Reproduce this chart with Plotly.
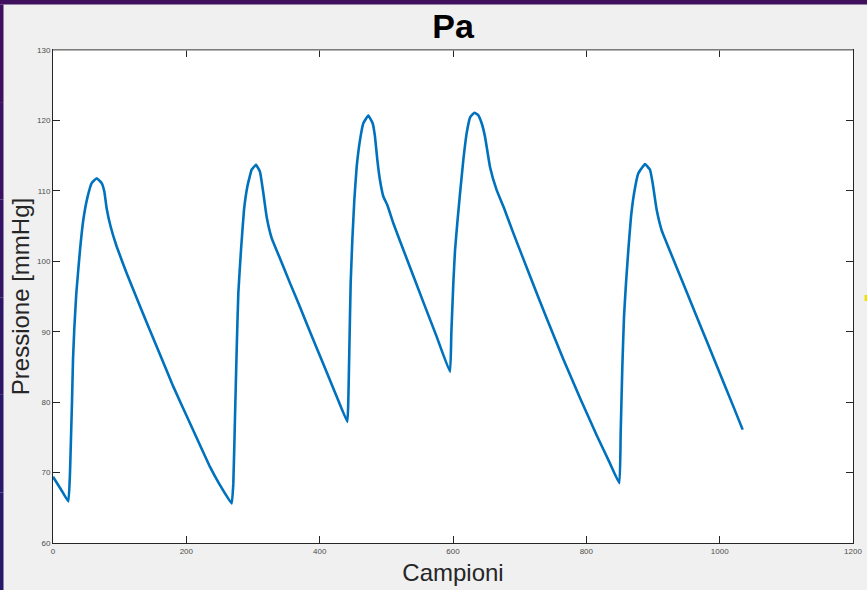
import plotly.graph_objects as go

# Arterial pressure trace (samples vs mmHg)
campioni = [0, 12, 23, 25.5, 27, 28.5, 30, 32, 35, 40.5, 45.5, 51.5, 58, 65.5, 73, 77, 80.5,
            86.5, 95.5, 110.5, 130.5, 155.5, 180.5, 205.5, 235.5, 250, 268,
            270.5, 273, 275.5, 278, 282, 286.5, 291.5, 298, 304.5, 310.5, 315.5, 320.5,
            328, 340.5, 355.5, 370.5, 385.5, 405.5, 425.5, 441.5,
            443, 444.5, 446.5, 449, 452, 455.5, 460.5, 465.5, 473, 479.5, 483, 486.5,
            490.5, 495.5, 501.5, 510.5, 530.5, 555.5, 575.5, 595.5,
            597.5, 600.5, 603, 606.5, 610.5, 615.5, 620.5, 626, 632, 637.5, 643, 648, 655.5,
            665.5, 675.5, 690.5, 715.5, 740.5, 765.5, 790.5, 815.5, 835.5, 849.5,
            851.5, 854, 856.5, 859.5, 863, 867, 871.5, 878, 888, 895.5, 899.5, 905.5,
            913, 920.5, 945.5, 970.5, 995.5, 1020.5, 1034.5]
pressione = [69.4, 67.6, 65.9, 70.0, 75.0, 80.0, 86.0, 90.5, 95.5, 101.6, 105.9, 109.0, 111.1, 111.8, 111.1, 109.9, 107.5,
             104.9, 102.1, 98.3, 93.6, 87.9, 82.2, 77.0, 70.8, 68.3, 65.6,
             68.5, 77.9, 87.4, 95.5, 101.6, 107.3, 110.6, 113.0, 113.7, 112.7, 109.7, 106.3,
             103.3, 100.4, 96.9, 93.5, 90.0, 85.4, 80.8, 77.2,
             80.3, 87.4, 96.9, 103.0, 108.7, 113.4, 117.2, 119.6, 120.7, 119.6, 117.7, 114.4,
             111.5, 109.2, 108.0, 105.4, 100.4, 94.2, 89.3, 84.3,
             89.8, 96.9, 101.5, 105.5, 109.6, 114.4, 118.2, 120.5, 121.1, 120.8, 119.6, 117.7, 113.4,
             110.1, 107.8, 104.0, 97.9, 91.9, 86.1, 80.6, 75.3, 71.3, 68.5,
             75.6, 85.0, 92.1, 96.9, 101.6, 106.3, 109.6, 112.5, 113.8, 113.0, 111.1, 107.3,
             104.4, 102.6, 96.8, 91.0, 85.2, 79.4, 76.1]

x_ticks = [0, 200, 400, 600, 800, 1000, 1200]
y_ticks = [60, 70, 80, 90, 100, 110, 120, 130]

W, H = 867, 590
L, R, T, B = 53, 14, 50, 47
PW, PH = W - L - R, H - T - B


def px_x(p):
    return (p - L) / PW


def px_y(p):
    return 1 + (T - p) / PH


fig = go.Figure()
fig.add_trace(go.Scatter(
    x=campioni, y=pressione, mode="lines",
    line=dict(color="#0072BD", width=2.6, shape="spline", smoothing=0.3),
    hoverinfo="x+y", showlegend=False,
))

axis_font = dict(family="Liberation Sans, Arial, sans-serif", size=8, color="#4d4d4d")
common = dict(
    showgrid=False, zeroline=False, showline=True, linecolor="#262626", linewidth=1,
    mirror="ticks", ticks="inside", ticklen=7, tickwidth=1, tickcolor="#262626",
    tickfont=axis_font, automargin=False,
)
fig.update_xaxes(range=[0, 1200], tickvals=x_ticks, ticktext=[str(v) for v in x_ticks],
                 title=dict(text="Campioni", standoff=9,
                            font=dict(family="Liberation Sans, Arial, sans-serif", size=24, color="#262626")),
                 **common)
fig.update_yaxes(range=[60, 130], tickvals=y_ticks, ticktext=[str(v) for v in y_ticks],
                 title=dict(text="Pressione [mmHg]", standoff=0,
                            font=dict(family="Liberation Sans, Arial, sans-serif", size=24, color="#262626")),
                 **common)

shapes = []
# lighter upper frame line
shapes.append(dict(type="line", xref="paper", yref="paper", x0=0, x1=1, y0=1, y1=1,
                   line=dict(color="#9a9a9a", width=1.5), layer="above"))
# window border: top band
shapes.append(dict(type="rect", xref="paper", yref="paper",
                   x0=px_x(0), x1=px_x(W), y0=px_y(4.5), y1=px_y(0),
                   fillcolor="#3f105e", line=dict(width=0), layer="above"))
# window border: left band, purple fading to blue downward
left_cols = ["#3f105e", "#3a1262", "#341464", "#2e1666", "#2a1868", "#25196a"]
n = len(left_cols)
for i, c in enumerate(left_cols):
    shapes.append(dict(type="rect", xref="paper", yref="paper",
                       x0=px_x(0), x1=px_x(3.5),
                       y0=px_y(4.5 + (H - 4.5) * (i + 1) / n), y1=px_y(4.5 + (H - 4.5) * i / n),
                       fillcolor=c, line=dict(width=0), layer="above"))
# small yellow mark at the right edge
shapes.append(dict(type="rect", xref="paper", yref="paper",
                   x0=px_x(864.5), x1=px_x(867), y0=px_y(301), y1=px_y(295),
                   fillcolor="#f2e000", line=dict(width=0), layer="above"))

fig.update_layout(
    width=W, height=H,
    margin=dict(l=L, r=R, t=T, b=B),
    paper_bgcolor="#f0f0f0", plot_bgcolor="#ffffff",
    title=dict(text="<b>Pa</b>", x=0.5, xref="paper", xanchor="center",
               y=1 - 26 / H, yref="container", yanchor="middle",
               font=dict(family="Liberation Sans, Arial, sans-serif", size=34, color="#000000")),
    shapes=shapes,
)

fig.write_html("out.html")
